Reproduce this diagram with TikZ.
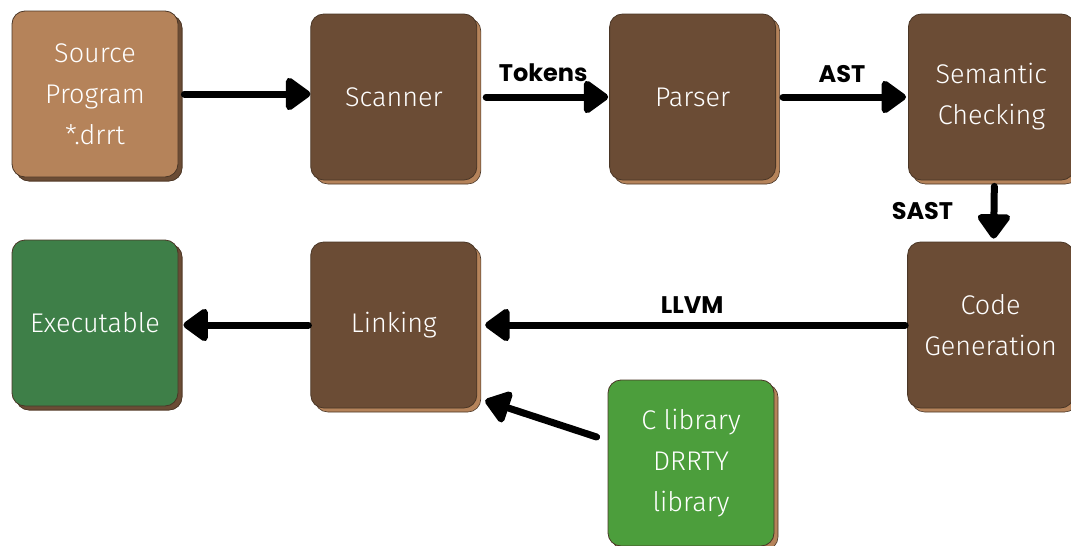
\documentclass[tikz,border=0pt]{standalone}
\usepackage{fontspec}
\usepackage{tikz}
\usetikzlibrary{positioning, shadows, arrows.meta}
\newfontfamily\boxfont{Fira Sans Light}
\newfontfamily\tagfont{Poppins}
\definecolor{tan}{HTML}{B5835A}
\definecolor{bark}{HTML}{6B4C35}
\definecolor{edge}{HTML}{4A3626}
\definecolor{exegreen}{HTML}{3E7F48}
\definecolor{libgreen}{HTML}{4C9E3C}
\tikzset{
    stage/.style = {
        draw = edge, line width = 0.8pt,
        fill = bark,
        rounded corners = 13pt,
        minimum size = 166pt,
        align = center,
        text = white,
        font = \boxfont\fontsize{27}{41}\selectfont,
        copy shadow = {shadow xshift = 4pt, shadow yshift = -4pt, fill = tan, draw = edge, line width = 0.6pt}
    },
    darkshade/.style = {
        copy shadow = {shadow xshift = 4pt, shadow yshift = -4pt, fill = bark, draw = edge, line width = 0.6pt}
    },
    flow/.style = {line width = 7pt, line cap = round, -{Triangle[length=27pt, width=37pt, round]}},
    tag/.style = {font = \tagfont\bfseries\fontsize{24}{28}\selectfont}
}

\begin{document}
\begin{tikzpicture}[x=1pt, y=1pt]

    \useasboundingbox (0,0) rectangle (1071,-546);

    % top row
    \node[stage, darkshade, fill = tan] (source) at (95,-94) {Source\\Program\\*.drrt};
    \node[stage, right = 132pt of source, yshift = -3pt] (scanner) {Scanner};
    \node[stage, right = 132pt of scanner] (parser) {Parser};
    \node[stage, right = 132pt of parser] (semantic) {Semantic\\Checking};

    % bottom row
    \node[stage, darkshade, fill = exegreen] (exe) at (95,-323) {Executable};
    \node[stage, right = 132pt of exe, yshift = -2pt] (linking) {Linking};
    \node[stage, right = 430pt of linking] (codegen) {Code\\Generation};
    \node[stage, fill = libgreen] (clib) at (691,-463) {C library\\DRRTY\\library};

    % Lines
    \draw[flow, shorten <= 6pt] (source.east) -- (scanner.west |- source.east);
    \draw[flow, shorten <= 9pt, shorten >= 1pt] (scanner.east) -- (parser.west) node[tag, midway, above = 8pt] (tokens) {Tokens};
    \draw[flow, shorten <= 7pt, shorten >= 2pt] (parser.east) -- (semantic.west) node[tag, midway, above = 8pt] (ast) {AST};
    \draw[flow, shorten <= 6pt, shorten >= 3pt] ([xshift=3pt]semantic.south) -- ([xshift=3pt]codegen.north) node[tag, midway, left = 34pt] (sast) {SAST};
    \draw[flow, shorten <= 2pt, shorten >= 8pt] (codegen.west) -- (linking.east) node[tag, midway, above = 5pt] (llvm) {LLVM};
    \draw[flow, shorten <= 2pt, shorten >= 5pt] (linking.west) -- (exe.east |- linking.west);
    \draw[flow] ([shift={(-11pt,26pt)}]clib.west) -- ([shift={(8pt,8pt)}]linking.south east);

\end{tikzpicture}
\end{document}
